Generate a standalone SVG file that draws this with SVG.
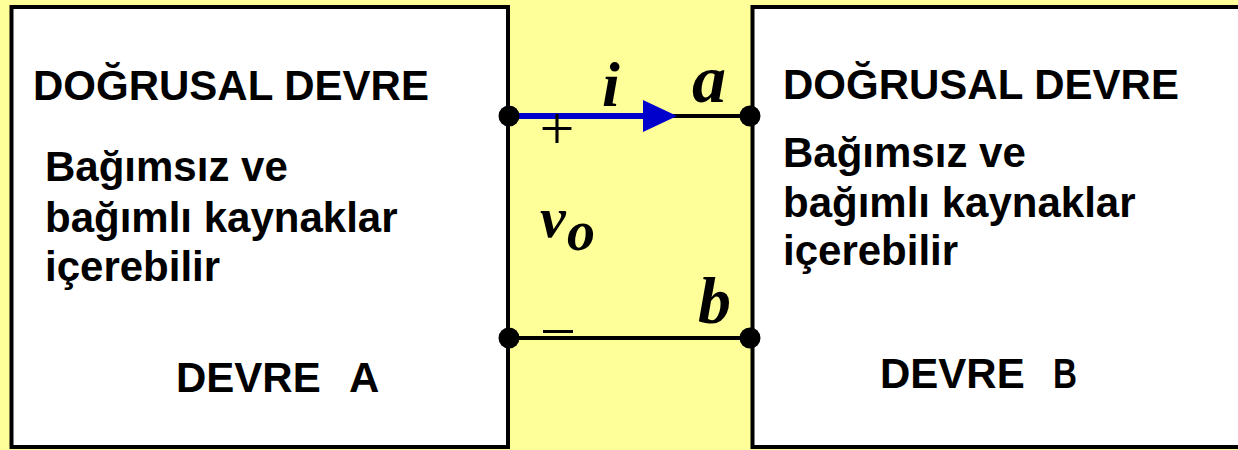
<svg xmlns="http://www.w3.org/2000/svg" width="1238" height="450" viewBox="0 0 1238 450">
<style>
.box{fill:#fff;stroke:#000;stroke-width:4}
.t{font-family:"Liberation Sans",Arial,sans-serif;font-weight:bold;font-size:42px;fill:#000}
.m{font-family:"Liberation Serif","Times New Roman",serif;font-weight:bold;font-style:italic;fill:#000}
.s{font-family:"Liberation Serif","Times New Roman",serif;fill:#000}
.w{stroke:#000;stroke-width:4;fill:none}
.dot{fill:#000}
</style>
<rect x="0" y="0" width="1238" height="450" fill="#FFFF99"/>
<g id="devreA">
<rect class="box" x="11.5" y="7" width="496.5" height="440"/>
<text class="t" x="33" y="100">DOĞRUSAL DEVRE</text>
<text class="t" x="45" y="181">Bağımsız ve</text>
<text class="t" x="45" y="232">bağımlı kaynaklar</text>
<text class="t" x="45" y="281">içerebilir</text>
<text class="t" x="176" y="392">DEVRE</text>
<text class="t" x="349" y="392">A</text>
</g>
<g id="devreB">
<rect class="box" x="752.5" y="7" width="500" height="440"/>
<text class="t" x="783" y="99">DOĞRUSAL DEVRE</text>
<text class="t" x="783" y="167">Bağımsız ve</text>
<text class="t" x="783" y="217">bağımlı kaynaklar</text>
<text class="t" x="783" y="265">içerebilir</text>
<text class="t" x="880" y="388">DEVRE</text>
<text class="t" x="1053" y="388" textLength="24" lengthAdjust="spacingAndGlyphs">B</text>
</g>
<g id="connectors">
<line class="w" x1="509" y1="116" x2="750" y2="116" stroke-width="3"/>
<line x1="509" y1="116" x2="646" y2="116" stroke="#0000CC" stroke-width="6"/>
<polygon points="643,100 677,116 643,132" fill="#0000CC"/>
<line class="w" x1="509" y1="338" x2="750" y2="338"/>
</g>
<g id="terminals">
<circle class="dot" cx="509" cy="116" r="10.5"/>
<circle class="dot" cx="750" cy="116" r="10.5"/>
<circle class="dot" cx="509" cy="338" r="10.5"/>
<circle class="dot" cx="750" cy="338" r="10.5"/>
</g>
<g id="labels">
<text class="m" x="602" y="106" font-size="64">i</text>
<text class="m" x="692" y="102" font-size="68">a</text>
<text class="m" x="698" y="323" font-size="66">b</text>
<text class="m" x="540" y="237" font-size="58">v</text>
<text class="m" x="567" y="250" font-size="56">o</text>
<text class="s" x="557" y="149" font-size="62" text-anchor="middle">+</text>
<line x1="543" y1="331.5" x2="573" y2="331.5" stroke="#000" stroke-width="3"/>
</g>
</svg>
